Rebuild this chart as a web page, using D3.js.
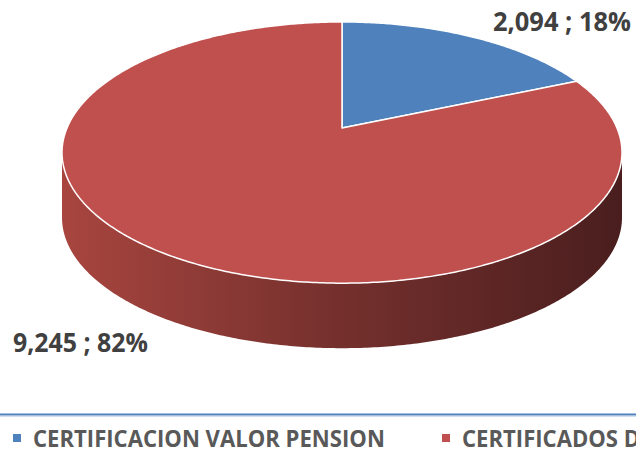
<!DOCTYPE html>
<html>
<head>
<meta charset="utf-8">
<script src="https://cdn.jsdelivr.net/npm/d3@7"></script>
<style>
  body { margin: 0; background: #fff; }
  svg { display: block; }
</style>
</head>
<body>
<div id="chart-area"></div>
<script>
// data
const categories = ["CERTIFICACION VALOR PENSION", "CERTIFICADOS DE PENSION"]
const values = [2094, 9245]

const WIDTH = 636
const HEIGHT = 460

// colours (Excel 2007 palette)
const COLORS = ["#4F81BD", "#C0504D"]
const SIDE_STOPS = [
  ["#3F6797", "#2A4566"],
  ["#A8453F", "#4A1E1E"]
]

// 3d pie geometry
const CX = 342, CY = 128
const RX = 275, RY = 126
const K = 0.188          // perspective
const DEPTH = 65

const svg = d3.select("#chart-area").append("svg")
  .attr("width", WIDTH)
  .attr("height", HEIGHT)
  .style("font-family", "'Open Sans', 'Noto Sans', sans-serif")

const defs = svg.append("defs")

// project a point of the unit disk (angle clockwise from 12 o'clock) to screen
function proj(theta, r, dy = 0) {
  const u = r * Math.sin(theta)
  const v = -r * Math.cos(theta)
  const s = 1 / (1 - K * v)
  return [CX + RX * u * s, CY + RY * v * s + dy]
}

function arcPoints(a0, a1, dy = 0) {
  const n = Math.max(2, Math.ceil((a1 - a0) / 0.01))
  return d3.range(n + 1).map(i => proj(a0 + (a1 - a0) * i / n, 1, dy))
}

const line = d3.line()

const pie = d3.pie().sort(null).value(d => d)
const arcs = pie(values)
const total = d3.sum(values)

// visible side spans the front half between the two silhouette points
const sideStart = Math.acos(-K)
const sideEnd = 2 * Math.PI - sideStart

const xLeft = proj(sideEnd, 1)[0]
const xRight = proj(sideStart, 1)[0]

arcs.forEach((a, i) => {
  const a0 = Math.max(a.startAngle, sideStart)
  const a1 = Math.min(a.endAngle, sideEnd)
  if (a1 <= a0) return

  const grad = defs.append("linearGradient")
    .attr("id", "side" + i)
    .attr("gradientUnits", "userSpaceOnUse")
    .attr("x1", xLeft).attr("x2", xRight)
    .attr("y1", 0).attr("y2", 0)
  grad.append("stop").attr("offset", 0).attr("stop-color", SIDE_STOPS[i][0])
  grad.append("stop").attr("offset", 0.5).attr("stop-color", d3.interpolateRgb(SIDE_STOPS[i][0], SIDE_STOPS[i][1])(0.55))
  grad.append("stop").attr("offset", 1).attr("stop-color", SIDE_STOPS[i][1])

  const top = arcPoints(a0, a1)
  const bottom = arcPoints(a0, a1, DEPTH).reverse()
  svg.append("path")
    .attr("fill", `url(#side${i})`)
    .attr("d", line(top.concat(bottom)) + "Z")
})

// top faces
arcs.forEach((a, i) => {
  const pts = [proj(0, 0)].concat(arcPoints(a.startAngle, a.endAngle))
  svg.append("path")
    .attr("fill", COLORS[i])
    .attr("stroke", "#fff")
    .attr("stroke-width", 1.5)
    .attr("stroke-linejoin", "round")
    .attr("d", line(pts) + "Z")
})

// data labels
const fmtNum = d3.format(",")
const fmtPct = d3.format(".0%")
const labelPos = [
  { x: 493, y: 31, w: 138 },
  { x: 13, y: 352, w: 135 }
]

arcs.forEach((a, i) => {
  const p = labelPos[i]
  svg.append("text")
    .attr("x", p.x).attr("y", p.y)
    .attr("font-size", 27)
    .attr("font-weight", "bold")
    .attr("fill", "#404040")
    .attr("textLength", p.w)
    .attr("lengthAdjust", "spacingAndGlyphs")
    .text(`${fmtNum(a.data)} ; ${fmtPct(a.data / total)}`)
})

// legend border
svg.append("line")
  .attr("x1", 0).attr("x2", WIDTH)
  .attr("y1", 414.5).attr("y2", 414.5)
  .attr("stroke", "#4F81BD").attr("stroke-width", 2)
svg.append("line")
  .attr("x1", 0).attr("x2", WIDTH)
  .attr("y1", 416).attr("y2", 416)
  .attr("stroke", "#A7C0DE").attr("stroke-width", 1)

// legend
const legendX = [13, 442]
const legend = svg.append("g")
let squeeze = 1
categories.forEach((c, i) => {
  const item = legend.append("g")
    .attr("transform", `translate(${legendX[i]}, 0)`)
  item.append("rect")
    .attr("x", 0).attr("y", 434)
    .attr("width", 8).attr("height", 8)
    .attr("fill", COLORS[i])
  const t = item.append("text")
    .attr("y", 447)
    .attr("font-size", 23)
    .attr("font-weight", "bold")
    .attr("fill", "#595959")
    .text(c)
  if (i === 0) squeeze = 352 / t.node().getComputedTextLength()
  t.attr("transform", `translate(20, 0) scale(${squeeze}, 1)`)
})
</script>
</body>
</html>
